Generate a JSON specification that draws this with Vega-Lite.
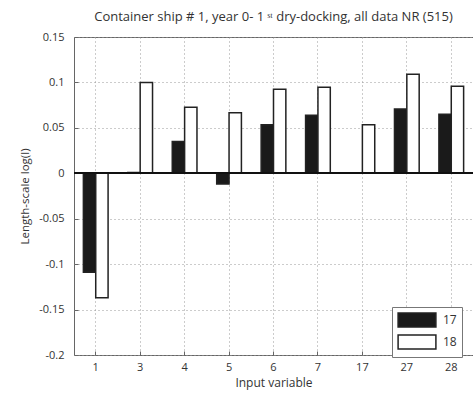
{
  "$schema": "https://vega.github.io/schema/vega-lite/v6.json",
  "width": 399,
  "height": 318,
  "autosize": {"type": "none"},
  "padding": {"left": 74, "top": 37, "right": 0, "bottom": 39},
  "background": "white",
  "title": {
    "text": "Container ship # 1, year 0- 1   ˢᵗ dry-docking, all data NR (515)",
    "font": "Open Sans",
    "fontSize": 13,
    "fontWeight": "normal",
    "color": "#333",
    "anchor": "middle",
    "offset": 7
  },
  "data": {
    "values": [
      {"var": "1", "series": "17", "value": -0.109},
      {"var": "1", "series": "18", "value": -0.137},
      {"var": "3", "series": "17", "value": 0.001},
      {"var": "3", "series": "18", "value": 0.1},
      {"var": "4", "series": "17", "value": 0.035},
      {"var": "4", "series": "18", "value": 0.0726},
      {"var": "5", "series": "17", "value": -0.0118},
      {"var": "5", "series": "18", "value": 0.0667},
      {"var": "6", "series": "17", "value": 0.0535},
      {"var": "6", "series": "18", "value": 0.0924},
      {"var": "7", "series": "17", "value": 0.064},
      {"var": "7", "series": "18", "value": 0.0946},
      {"var": "17", "series": "17", "value": 0},
      {"var": "17", "series": "18", "value": 0.0535},
      {"var": "27", "series": "17", "value": 0.0708},
      {"var": "27", "series": "18", "value": 0.109},
      {"var": "28", "series": "17", "value": 0.065},
      {"var": "28", "series": "18", "value": 0.0957}
    ]
  },
  "layer": [
    {
      "mark": {"type": "bar", "stroke": "#222", "strokeWidth": 1.5},
      "encoding": {
        "x": {
          "field": "var",
          "type": "nominal",
          "sort": ["1", "3", "4", "5", "6", "7", "17", "27", "28"],
          "scale": {"paddingInner": 0.444, "paddingOuter": 0.211},
          "axis": {
            "title": "Input variable",
            "labelAngle": 0,
            "grid": true,
            "gridDash": [1, 3],
            "gridColor": "#999",
            "tickSize": -4,
            "tickColor": "#666",
            "domain": false,
            "labelPadding": 10,
            "titlePadding": 5,
            "titleFontSize": 12
          }
        },
        "xOffset": {"field": "series", "type": "nominal"},
        "y": {
          "field": "value",
          "type": "quantitative",
          "scale": {"domain": [-0.2, 0.15], "nice": false, "zero": false},
          "axis": {
            "title": "Length-scale log(l)",
            "values": [-0.2, -0.15, -0.1, -0.05, 0, 0.05, 0.1, 0.15],
            "labelExpr": "replace(format(datum.value, '.2~f'), '−', '-')",
            "grid": true,
            "gridDash": [1, 3],
            "gridColor": "#999",
            "tickSize": -4,
            "tickColor": "#666",
            "domain": false,
            "labelPadding": 14,
            "titlePadding": 8
          }
        },
        "fill": {
          "field": "series",
          "type": "nominal",
          "scale": {"domain": ["17", "18"], "range": ["#1a1a1a", "#ffffff"]},
          "legend": {
            "title": null,
            "orient": "none",
            "legendX": 318,
            "legendY": 270,
            "strokeColor": "#777",
            "fillColor": "white",
            "padding": 5,
            "symbolType": "M-2.7,-1H2.7V1H-2.7Z",
            "symbolSize": 196,
            "symbolStrokeColor": "#222",
            "symbolStrokeWidth": 1.5,
            "symbolOffset": 12,
            "labelOffset": 18,
            "rowPadding": 2,
            "labelFontSize": 12
          }
        }
      }
    },
    {
      "mark": {"type": "rule", "color": "#111", "strokeWidth": 1.5},
      "encoding": {"y": {"datum": 0}}
    }
  ],
  "config": {
    "view": {"stroke": "#666", "strokeWidth": 1},
    "font": "Open Sans",
    "axis": {
      "labelFont": "Open Sans",
      "titleFont": "Open Sans",
      "labelFontSize": 11,
      "titleFontSize": 11.5,
      "titleFontWeight": "normal",
      "labelColor": "#333",
      "titleColor": "#333"
    },
    "legend": {"labelFont": "Open Sans", "labelColor": "#333"}
  }
}
